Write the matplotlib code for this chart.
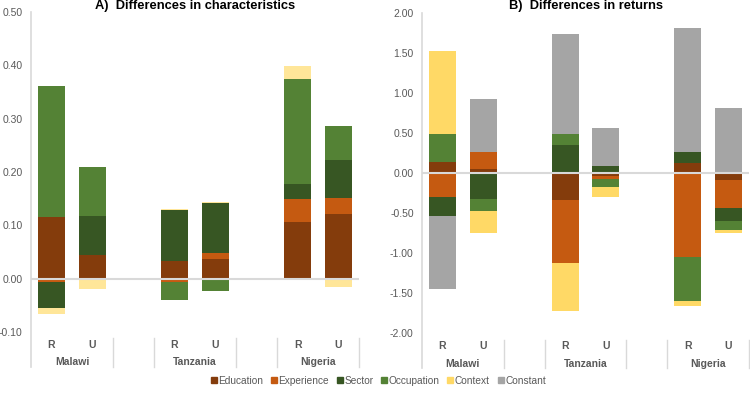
import matplotlib.pyplot as plt
from matplotlib.lines import Line2D
import numpy as np

plt.rcParams['font.family'] = ['Liberation Sans', 'DejaVu Sans']

countries = ['Malawi', 'Tanzania', 'Nigeria']
areas = ['R', 'U']
components = ['Education', 'Experience', 'Sector', 'Occupation', 'Context', 'Constant']

# bars in order: Malawi R, Malawi U, Tanzania R, Tanzania U, Nigeria R, Nigeria U
char_education = [0.115, 0.044, 0.033, 0.036, 0.107, 0.122]
char_experience = [-0.007, 0.0, -0.007, 0.012, 0.043, 0.030]
char_sector = [-0.048, 0.073, 0.096, 0.094, 0.028, 0.070]
char_occupation = [0.246, 0.093, -0.033, -0.023, 0.196, 0.064]
char_context = [-0.012, -0.020, 0.001, 0.002, 0.025, -0.015]
char_constant = [0, 0, 0, 0, 0, 0]

ret_education = [0.14, 0.05, -0.34, -0.03, 0.125, -0.09]
ret_experience = [-0.30, 0.21, -0.78, -0.045, -1.05, -0.35]
ret_sector = [-0.24, -0.32, 0.35, 0.085, 0.135, -0.155]
ret_occupation = [0.35, -0.155, 0.14, -0.10, -0.55, -0.115]
ret_context = [1.04, -0.27, -0.60, -0.125, -0.06, -0.04]
ret_constant = [-0.91, 0.67, 1.25, 0.475, 1.56, 0.81]

colors_a = ['#843C0C', '#C55A11', '#375623', '#548235', '#FFE699', '#A5A5A5']
colors_b = ['#843C0C', '#C55A11', '#375623', '#548235', '#FFD966', '#A5A5A5']
grey_txt = '#595959'
line_c = '#D9D9D9'

xpos = np.array([0, 1, 3, 4, 6, 7])
seps = [-0.5, 1.5, 2.5, 4.5, 5.5, 7.5]


def stacked(ax, series, colors):
    pos = np.zeros(len(xpos))
    neg = np.zeros(len(xpos))
    for vals, c in zip(series, colors):
        v = np.array(vals, dtype=float)
        bottom = np.where(v >= 0, pos, neg)
        ax.bar(xpos, v, 0.66, bottom=bottom, color=c, zorder=2)
        pos = pos + np.where(v >= 0, v, 0)
        neg = neg + np.where(v < 0, v, 0)


def style(ax, ticks, title):
    ax.set_xlim(-0.5, 7.5)
    ax.set_ylim(ticks[0], ticks[-1])
    ax.set_yticks(ticks)
    ax.set_yticklabels([f'{t:.2f}' for t in ticks], color=grey_txt, fontsize=7.5)
    ax.tick_params(axis='y', length=0, pad=6)
    ax.set_xticks([])
    for s in ax.spines.values():
        s.set_visible(False)
    ax.axhline(0, color=line_c, lw=1.5, zorder=3)
    tr = ax.get_xaxis_transform()
    ax.plot([-0.5, -0.5], [1, -0.109], transform=tr, color=line_c, lw=1.2, clip_on=False)
    for s in seps[1:]:
        ax.plot([s, s], [-0.02, -0.109], transform=tr, color=line_c, lw=1.0, clip_on=False)
    for i, x in enumerate(xpos):
        ax.text(x, -0.04, areas[i % 2], transform=tr, ha='center', va='center',
                fontsize=7.5, fontweight='bold', color=grey_txt)
    for i, c in enumerate(countries):
        ax.text(3 * i + 0.5, -0.095, c, transform=tr, ha='center', va='center',
                fontsize=7.5, fontweight='bold', color=grey_txt)
    fig.text(0.5 * (ax.get_position().x0 + ax.get_position().x1), 1 - 6.5 / 399, title,
             ha='center', va='center', fontsize=9.3, fontweight='bold', color='#000000')


fig = plt.figure(figsize=(7.5, 3.99), dpi=100)
ax1 = fig.add_axes([0.0413, 0.168, 0.4374, 0.802])
ax2 = fig.add_axes([0.5627, 0.165, 0.436, 0.802])

stacked(ax1, [char_education, char_experience, char_sector, char_occupation,
              char_context, char_constant], colors_a)
stacked(ax2, [ret_education, ret_experience, ret_sector, ret_occupation,
              ret_context, ret_constant], colors_b)

style(ax1, np.round(np.arange(-0.1, 0.51, 0.1), 2), 'A)  Differences in characteristics')
style(ax2, np.round(np.arange(-2.0, 2.01, 0.5), 2), 'B)  Differences in returns')

handles = [Line2D([], [], marker='s', linestyle='none', markersize=4.5, color=c)
           for c in colors_b]
leg = fig.legend(handles, components, loc='center', bbox_to_anchor=(0.504, 0.045),
                 ncol=6, frameon=False, fontsize=7.3, handletextpad=0.1,
                 columnspacing=0.7, handlelength=0.7)
for t in leg.get_texts():
    t.set_color(grey_txt)

fig.savefig('out.png', dpi=100)
